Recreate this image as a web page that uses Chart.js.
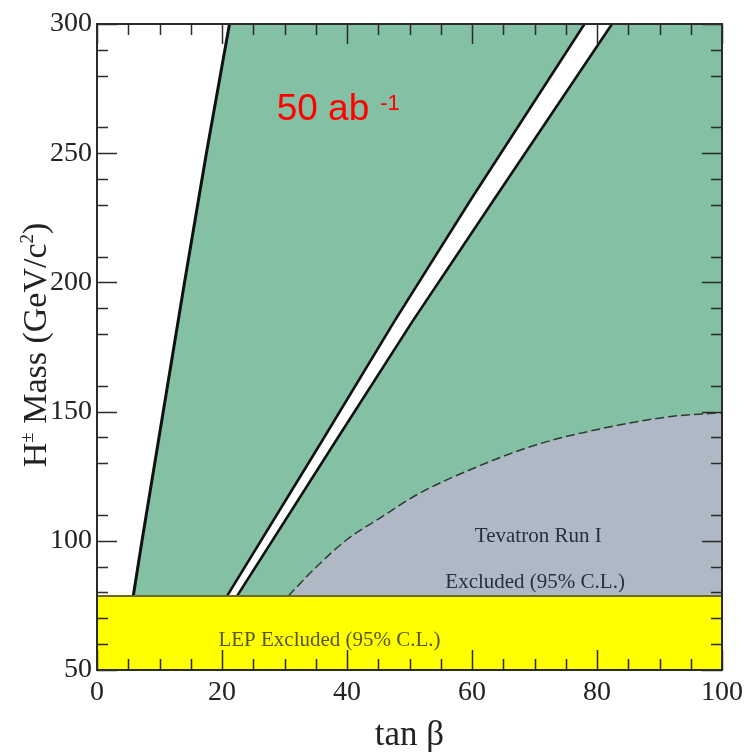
<!DOCTYPE html>
<html>
<head>
<meta charset="utf-8">
<title>H± mass vs tan β</title>
<script src="https://cdn.jsdelivr.net/npm/chart.js@4.4.1/dist/chart.umd.min.js"></script>
<style>
  html, body { margin: 0; padding: 0; background: #fff; }
  canvas { display: block; }
</style>
</head>
<body>
<canvas id="chart" width="749" height="752"></canvas>
<script>
// LEP limit on the charged Higgs mass (GeV/c^2)
const lepLimit = 78.6;

// left edge of the 50 ab^-1 reach (tan beta, mass)
const reachLeftX = [5.8, 7.2, 10.6, 14.0, 17.5, 21.2];
const reachLeftY = [lepLimit, 100, 150, 200, 250, 300];

// white gap inside the reach
const gapLeftX = [20.8, 36.1, 47.6, 59.8, 78.0];
const gapLeftY = [lepLimit, 139, 185, 232, 300];
const gapRightX = [22.4, 38.3, 50.5, 63.5, 82.4];
const gapRightY = [lepLimit, 139, 185, 232, 300];

// Tevatron Run I exclusion contour
const tevX = [30.6, 34.6, 39.9, 45.2, 51.6, 59.6, 70.2, 80.9, 91.5, 100];
const tevY = [lepLimit, 88.7, 100.3, 108.7, 118.4, 127.4, 137.1, 143.5, 148.0, 149.6];

// axes
const xRange = [0, 100];
const yRange = [50, 300];
const xMajorTicks = [0, 20, 40, 60, 80, 100];
const xMinorTicks = [5, 10, 15, 25, 30, 35, 45, 50, 55, 65, 70, 75, 85, 90, 95];
const yMajorTicks = [50, 100, 150, 200, 250, 300];
const yMinorTicks = [60, 70, 80, 90, 110, 130, 140, 160, 180, 190, 210, 230, 240, 260, 280, 290];

// text anchors, in data units
const lumiAt = { x: 28.75, y: 262.8 };
const lepLabelAt = { x: 37.2, y: 61.6 };
const tevLabel1At = { x: 70.6, y: 101.5 };
const tevLabel2At = { x: 70.1, y: 83.7 };

const pts = (xs, ys) => xs.map((x, i) => ({ x, y: ys[i] }));

const serif = '"Liberation Serif", "Times New Roman", serif';
const sans = '"Liberation Sans", Arial, sans-serif';

function area(data, color, order) {
  return { data, backgroundColor: color, fill: 'shape', borderWidth: 0, showLine: true, pointRadius: 0, order };
}

function curve(data, color, width, dash, order) {
  return { data, borderColor: color, borderWidth: width, borderDash: dash, fill: false, showLine: true, pointRadius: 0, order };
}

const greenArea = [...pts(reachLeftX, reachLeftY), { x: xRange[1], y: yRange[1] }, { x: xRange[1], y: lepLimit }];
const gapArea = [...pts(gapLeftX, gapLeftY), ...pts(gapRightX, gapRightY).reverse()];
const lepArea = [{ x: xRange[0], y: yRange[0] }, { x: xRange[1], y: yRange[0] }, { x: xRange[1], y: lepLimit }, { x: xRange[0], y: lepLimit }];

// Tevatron curve, filled down to the LEP line
const tevCurve = {
  ...curve(pts(tevX, tevY), '#2c3a34', 1.5, [9, 4], 8),
  backgroundColor: '#aeb9c5',
  fill: { value: lepLimit },
  cubicInterpolationMode: 'monotone',
};

const decorations = {
  id: 'decorations',
  afterDatasetsDraw(chart) {
    const { ctx, chartArea: a, scales: { x, y } } = chart;
    ctx.save();
    ctx.strokeStyle = '#2b2b2b';
    ctx.lineWidth = 1.5;
    ctx.beginPath();
    const xTicks = (vals, len) => vals.forEach((v) => {
      const px = Math.round(x.getPixelForValue(v)) + 0.5;
      ctx.moveTo(px, a.bottom); ctx.lineTo(px, a.bottom - len);
      ctx.moveTo(px, a.top); ctx.lineTo(px, a.top + len);
    });
    const yTicks = (vals, len) => vals.forEach((v) => {
      const py = Math.round(y.getPixelForValue(v)) + 0.5;
      ctx.moveTo(a.left, py); ctx.lineTo(a.left + len, py);
      ctx.moveTo(a.right, py); ctx.lineTo(a.right - len, py);
    });
    xTicks(xMajorTicks, 20);
    xTicks(xMinorTicks, 11);
    yTicks(yMajorTicks, 20);
    yTicks(yMinorTicks, 11);
    ctx.stroke();
    ctx.lineWidth = 2;
    ctx.strokeRect(a.left, a.top, a.right - a.left, a.bottom - a.top);
    ctx.restore();
  },
  afterDraw(chart) {
    const { ctx, chartArea: a, scales: { x, y } } = chart;
    ctx.save();

    // luminosity label
    ctx.fillStyle = '#ff0000';
    ctx.textBaseline = 'alphabetic';
    ctx.textAlign = 'left';
    ctx.font = `37px ${sans}`;
    const lx = x.getPixelForValue(lumiAt.x);
    const ly = y.getPixelForValue(lumiAt.y);
    ctx.fillText('50 ab', lx, ly);
    const w = ctx.measureText('50 ab').width;
    ctx.font = `22px ${sans}`;
    ctx.fillText('-1', lx + w + 11, ly - 10);

    // region labels
    ctx.textAlign = 'center';
    ctx.textBaseline = 'middle';
    ctx.font = `21px ${serif}`;
    ctx.fillStyle = '#57561c';
    ctx.fillText('LEP Excluded (95% C.L.)', x.getPixelForValue(lepLabelAt.x), y.getPixelForValue(lepLabelAt.y));
    ctx.fillStyle = '#27303c';
    ctx.fillText('Tevatron Run I', x.getPixelForValue(tevLabel1At.x), y.getPixelForValue(tevLabel1At.y));
    ctx.fillText('Excluded (95% C.L.)', x.getPixelForValue(tevLabel2At.x), y.getPixelForValue(tevLabel2At.y));

    // x title
    ctx.fillStyle = '#222';
    ctx.textBaseline = 'alphabetic';
    ctx.font = `35px ${serif}`;
    ctx.fillText('tan β', (a.left + a.right) / 2, 745);

    // y title with superscripts
    const runs = [
      { t: 'H', s: 34, dy: 0 },
      { t: '±', s: 19, dy: -13 },
      { t: ' Mass (GeV/c', s: 34, dy: 0 },
      { t: '2', s: 19, dy: -13 },
      { t: ')', s: 34, dy: 0 },
    ];
    let total = 0;
    runs.forEach((r) => { ctx.font = `${r.s}px ${serif}`; r.w = ctx.measureText(r.t).width; total += r.w; });
    ctx.translate(34, (a.top + a.bottom) / 2 - 2);
    ctx.rotate(-Math.PI / 2);
    ctx.textAlign = 'left';
    let cx = -total / 2;
    runs.forEach((r) => {
      ctx.font = `${r.s}px ${serif}`;
      ctx.fillText(r.t, cx, 12 + r.dy);
      cx += r.w;
    });
    ctx.restore();
  },
};

new Chart(document.getElementById('chart'), {
  type: 'scatter',
  data: {
    datasets: [
      area(greenArea, '#84c0a3', 10),
      area(gapArea, '#ffffff', 9),
      tevCurve,
      area(lepArea, '#ffff00', 7),
      curve(pts(reachLeftX, reachLeftY), '#111', 3, [], 5),
      curve(pts(gapLeftX, gapLeftY), '#111', 2.6, [], 4),
      curve(pts(gapRightX, gapRightY), '#111', 2.6, [], 3),
      curve([{ x: xRange[0], y: lepLimit }, { x: xRange[1], y: lepLimit }], '#6b6a22', 2, [], 1),
    ],
  },
  options: {
    responsive: false,
    animation: false,
    devicePixelRatio: 1,
    layout: { padding: { top: 24, right: 26, left: 0, bottom: 0 } },
    plugins: { legend: { display: false }, tooltip: { enabled: false } },
    scales: {
      x: {
        type: 'linear',
        min: xRange[0],
        max: xRange[1],
        afterFit: (s) => { s.height = 82; },
        grid: { display: false, drawTicks: false },
        border: { display: false },
        ticks: { stepSize: 20, padding: 6, color: '#222', font: { family: serif, size: 28 }, maxRotation: 0 },
      },
      y: {
        type: 'linear',
        min: yRange[0],
        max: yRange[1],
        afterFit: (s) => { s.width = 97; },
        grid: { display: false, drawTicks: false },
        border: { display: false },
        ticks: { stepSize: 50, padding: 5, color: '#222', font: { family: serif, size: 28 } },
      },
    },
  },
  plugins: [decorations],
});
</script>
</body>
</html>
